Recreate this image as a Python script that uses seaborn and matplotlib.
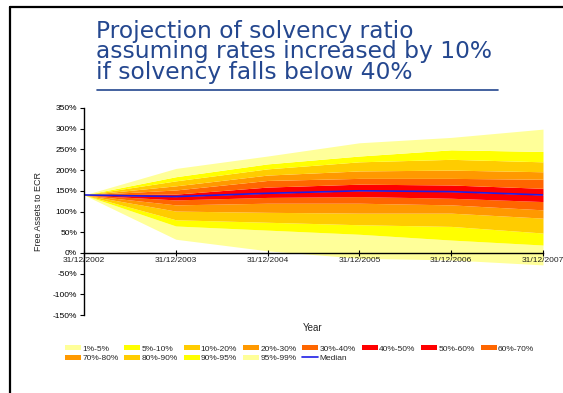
import matplotlib
matplotlib.use("Agg")
import matplotlib.pyplot as plt
from matplotlib.lines import Line2D
from matplotlib.patches import Patch
import seaborn as sns
import pandas as pd

# Projection dates
dates = ["31/12/2002", "31/12/2003", "31/12/2004", "31/12/2005", "31/12/2006", "31/12/2007"]

# Percentiles of free assets to ECR (%)
p1 = [140, 33, 5, -13, -17, -29]
p5 = [140, 65, 55, 45, 31, 19]
p10 = [140, 80, 74, 68, 64, 48]
p20 = [140, 101, 98, 96, 96, 84]
p30 = [140, 116, 120, 120, 116, 104]
p40 = [140, 128, 134, 136, 132, 124]
p50 = [140, 136, 144, 150, 148, 140]
p60 = [140, 142, 159, 166, 164, 156]
p70 = [140, 152, 175, 180, 180, 178]
p80 = [140, 162, 188, 198, 200, 196]
p90 = [140, 174, 203, 220, 226, 220]
p95 = [140, 184, 215, 234, 249, 245]
p99 = [140, 204, 234, 266, 279, 299]
median = [140, 136, 144, 150, 148, 140]

band_labels = ["1%-5%", "5%-10%", "10%-20%", "20%-30%", "30%-40%", "40%-50%",
               "50%-60%", "60%-70%", "70%-80%", "80%-90%", "90%-95%", "95%-99%"]
band_colors = ["#FFFF99", "#FFFF00", "#FFCC00", "#FF9900", "#FF6600", "#FF0000",
               "#FF0000", "#FF6600", "#FF9900", "#FFCC00", "#FFFF00", "#FFFF99"]
y_ticks = [-150, -100, -50, 0, 50, 100, 150, 200, 250, 300, 350]

sns.set_style("white")
plt.rcParams["font.family"] = ["Liberation Sans", "DejaVu Sans"]

fig = plt.figure(figsize=(5.63, 3.93), dpi=100)
ax = fig.add_axes([84 / 563, 1 - 315 / 393, (543 - 84) / 563, (315 - 108) / 393])
ax.set_axisbelow(False)

x = list(range(len(dates)))
bounds = [p1, p5, p10, p20, p30, p40, p50, p60, p70, p80, p90, p95, p99]
for i, col in enumerate(band_colors):
    ax.fill_between(x, bounds[i], bounds[i + 1], color=col, linewidth=0)

df = pd.DataFrame({"x": x, "Median": median})
sns.lineplot(data=df, x="x", y="Median", ax=ax, color="#1F1FE6", linewidth=1.2,
             legend=False)

ax.set_xlim(0, len(dates) - 1)
ax.set_ylim(-150, 350)
ax.set_yticks(y_ticks)
ax.set_yticklabels([f"{v}%" for v in y_ticks])
ax.set_xticks(x)
ax.set_xticklabels(dates)
ax.set_xlabel("")
ax.set_ylabel("Free Assets to ECR", fontsize=6.5, labelpad=7)

for s in ["top", "right"]:
    ax.spines[s].set_visible(False)
ax.spines["bottom"].set_position(("data", 0))
for s in ["left", "bottom"]:
    ax.spines[s].set_color("black")
    ax.spines[s].set_linewidth(1.0)
    ax.spines[s].set_zorder(3)
ax.tick_params(axis="x", direction="inout", length=4, width=0.8, labelsize=6, pad=1,
               colors="black", bottom=True)
ax.tick_params(axis="y", direction="out", length=3, width=0.8, labelsize=6, pad=2,
               colors="black", left=True)
for t in ax.get_xticklabels():
    t.set_color("#222222")
    t.set_clip_on(False)

fig.text(313 / 563, 1 - 328 / 393, "Year", fontsize=7, ha="center", va="center")

# Legend laid out row-wise across eight columns
handles = [Patch(facecolor=c, edgecolor="none") for c in band_colors]
handles.append(Line2D([], [], color="#1F1FE6", linewidth=1.2))
labels = band_labels + ["Median"]
order = [0, 8, 1, 9, 2, 10, 3, 11, 4, 12, 5, 6, 7]
fig.legend([handles[i] for i in order], [labels[i] for i in order],
           loc="upper left", bbox_to_anchor=(65 / 563, 1 - 345 / 393), ncol=8,
           frameon=False, fontsize=6, handlelength=1.9, handleheight=0.6,
           handletextpad=0.15, columnspacing=0.72, labelspacing=0.25, borderpad=0,
           borderaxespad=0)

# Title block with underline
title_color = "#24478F"
fig.text(96 / 563, 1 - 20 / 393,
         "Projection of solvency ratio\nassuming rates increased by 10%\nif solvency falls below 40%",
         fontsize=16.8, color=title_color, ha="left", va="top", linespacing=0.85,
         family=["DejaVu Sans"])
fig.add_artist(Line2D([97 / 563, 498 / 563], [1 - 90 / 393, 1 - 90 / 393],
                      color=title_color, linewidth=1.2, transform=fig.transFigure))

# Slide frame
fig.add_artist(Line2D([10 / 563, 1.0], [1 - 7 / 393, 1 - 7 / 393], color="black",
                      linewidth=1.6, transform=fig.transFigure))
fig.add_artist(Line2D([10 / 563, 10 / 563], [0.0, 1 - 7 / 393], color="black",
                      linewidth=1.6, transform=fig.transFigure))

fig.savefig("out.png", dpi=100)
